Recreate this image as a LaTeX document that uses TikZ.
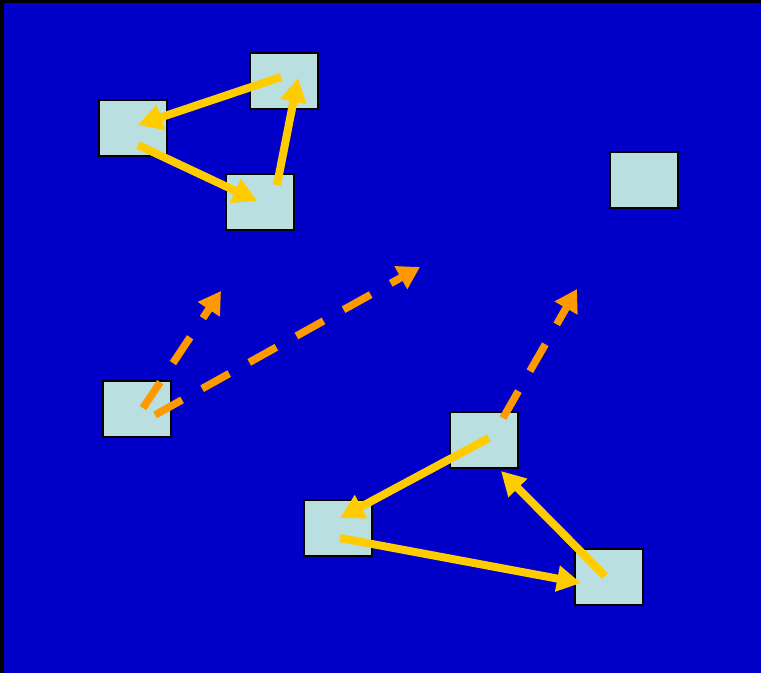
\documentclass[tikz,border=0pt]{standalone}
\usetikzlibrary{arrows.meta}
\definecolor{bgblue}{RGB}{0,0,200}
\definecolor{boxfill}{RGB}{185,223,225}
\definecolor{yarrow}{RGB}{255,204,0}
\definecolor{oarrow}{RGB}{255,153,0}
\tikzset{
  boxnode/.style={draw=black, line width=2pt, fill=boxfill, minimum width=68pt, minimum height=56pt, inner sep=0pt},
  solidarrow/.style={draw=yarrow, line width=8pt, -{Triangle[length=24pt,width=25pt]}},
  dasharrow/.style={draw=oarrow, line width=7.5pt, dash pattern=on 31pt off 23pt, -{Triangle[length=22pt,width=25pt]}}
}
\begin{document}
\begin{tikzpicture}[x=1pt,y=-1pt]
\useasboundingbox (0,0) rectangle (761,673);
\fill[black] (0,0) rectangle (761,673);
\fill[bgblue] (4,3) rectangle (761,673);
% boxes
\node[boxnode] (A) at (283.5,81) {};
\node[boxnode] (B) at (133,128) {};
\node[boxnode] (C) at (260,202) {};
\node[boxnode] (D) at (644,180) {};
\node[boxnode] (E) at (136.5,409) {};
\node[boxnode] (F) at (484,440) {};
\node[boxnode] (G) at (338,527.5) {};
\node[boxnode] (H) at (609,576.5) {};
% arrow endpoints
\coordinate (a1) at (281,77);  \coordinate (b1) at (138,125);
\coordinate (b2) at (138,145); \coordinate (c2) at (257,201);
\coordinate (c3) at (277,185); \coordinate (a3) at (298,78);
\coordinate (e4) at (143,408); \coordinate (t4) at (221,291);
\coordinate (e5) at (155,415); \coordinate (t5) at (420,267);
\coordinate (f6) at (503,418); \coordinate (t6) at (577,289);
\coordinate (f7) at (489,438); \coordinate (g7) at (340,518);
\coordinate (g8) at (340,538); \coordinate (h8) at (581,583);
\coordinate (h9) at (605,576); \coordinate (f9) at (501,471);
% solid arrows
\draw[solidarrow] (a1) -- (b1);
\draw[solidarrow] (b2) -- (c2);
\draw[solidarrow] (c3) -- (a3);
\draw[solidarrow] (f7) -- (g7);
\draw[solidarrow] (g8) -- (h8);
\draw[solidarrow] (h9) -- (f9);
% dashed arrows
\draw[dasharrow] (e4) -- (t4);
\draw[dasharrow] (e5) -- (t5);
\draw[dasharrow] (f6) -- (t6);
\end{tikzpicture}
\end{document}
